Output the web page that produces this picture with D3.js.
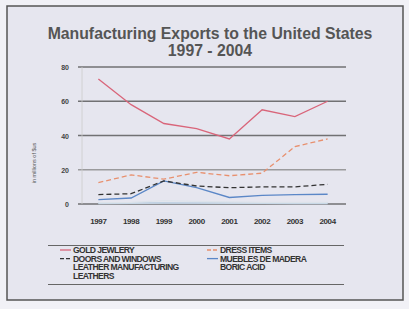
<!DOCTYPE html>
<html>
<head>
<meta charset="utf-8">
<script src="https://cdn.jsdelivr.net/npm/d3@7"></script>
<style>
  body { margin: 0; background: #f1f1f6; }
  svg { display: block; }
</style>
</head>
<body>
<svg id="chart" width="409" height="309"></svg>
<script>
// data
var years = ['1997', '1998', '1999', '2000', '2001', '2002', '2003', '2004'];
var yTicks = [0, 20, 40, 60, 80];
var goldJewlery = [73, 58, 47, 44, 38, 55, 51, 60];
var dressItems = [12.5, 17, 14.5, 18.5, 16.5, 18, 33.5, 38];
var doorsWindows = [5.5, 6, 13.5, 10.5, 9.5, 10, 10, 11.5];
var mueblesMadera = [2.5, 3.5, 13.5, 9.5, 3.8, 5, 5.5, 5.7];
var leatherManuf = [0.8, 1, 2, 1.5, 1.2, 1, 1, 1];
var leathers = [0.3, 0.4, 0.5, 0.5, 0.4, 0.4, 0.3, 0.3];
var boricAcid = [0.5, 0.5, 0.6, 0.5, 0.5, 0.5, 0.5, 0.5];

var series = [
  {name: 'GOLD JEWLERY', values: goldJewlery, color: '#d9657a', dash: null, col: 0, row: 0},
  {name: 'DOORS AND WINDOWS', values: doorsWindows, color: '#333333', dash: '5,3', col: 0, row: 1},
  {name: 'LEATHER MANUFACTURING', values: leatherManuf, color: '#dde3ea', dash: null, col: 0, row: 2},
  {name: 'LEATHERS', values: leathers, color: '#c9d8e6', dash: null, col: 0, row: 3},
  {name: 'DRESS ITEMS', values: dressItems, color: '#e8906e', dash: '5,3', col: 1, row: 0},
  {name: 'MUEBLES DE MADERA', values: mueblesMadera, color: '#5b87c7', dash: null, col: 1, row: 1},
  {name: 'BORIC ACID', values: boricAcid, color: '#aac4dc', dash: null, col: 1, row: 2}
];

var svg = d3.select('#chart');

// frame
svg.append('rect')
    .attr('x', 7).attr('y', 6)
    .attr('width', 396).attr('height', 294)
    .attr('fill', '#e6e6ef')
    .attr('stroke', '#555').attr('stroke-width', 1.5);

// title
svg.append('text')
    .attr('x', 210).attr('y', 39)
    .attr('text-anchor', 'middle')
    .attr('font-family', 'Liberation Sans, Arial, sans-serif')
    .attr('font-weight', 'bold').attr('font-size', 15.8)
    .attr('fill', '#555')
    .text('Manufacturing Exports to the United States');
svg.append('text')
    .attr('x', 210).attr('y', 56)
    .attr('text-anchor', 'middle')
    .attr('font-family', 'Liberation Sans, Arial, sans-serif')
    .attr('font-weight', 'bold').attr('font-size', 15.8)
    .attr('fill', '#555')
    .text('1997  -  2004');

var x = d3.scaleBand().domain(years).range([82, 344]);
var y = d3.scaleLinear().domain([0, 80]).range([204, 67]);

// gridlines
svg.append('g').selectAll('line')
    .data(yTicks)
    .join('line')
    .attr('x1', 78).attr('x2', 346)
    .attr('y1', d => y(d)).attr('y2', d => y(d))
    .attr('stroke', d => d == 20 ? '#888' : '#555')
    .attr('stroke-width', 1.4)
    .attr('opacity', 0.8);

// faint vertical axis
svg.append('line')
    .attr('x1', 82).attr('x2', 82)
    .attr('y1', y(80)).attr('y2', y(0))
    .attr('stroke', '#ccc').attr('stroke-width', 0.8);

// y tick labels
svg.append('g').selectAll('text')
    .data(yTicks)
    .join('text')
    .attr('x', 69).attr('y', d => y(d) + 3)
    .attr('text-anchor', 'end')
    .attr('font-family', 'Liberation Sans, Arial, sans-serif')
    .attr('font-weight', 'bold').attr('font-size', 7)
    .attr('fill', '#444')
    .text(d => d);

// x tick labels
svg.append('g').selectAll('text')
    .data(years)
    .join('text')
    .attr('x', d => x(d) + x.bandwidth() / 2)
    .attr('y', 224)
    .attr('text-anchor', 'middle')
    .attr('font-family', 'Liberation Sans, Arial, sans-serif')
    .attr('font-weight', 'bold').attr('font-size', 8)
    .attr('letter-spacing', -0.4)
    .attr('fill', '#333')
    .text(d => d);

// y axis title
svg.append('text')
    .attr('transform', 'translate(36,163) rotate(-90)')
    .attr('text-anchor', 'middle')
    .attr('font-family', 'Liberation Sans, Arial, sans-serif')
    .attr('font-size', 5.5)
    .attr('fill', '#555')
    .text('in millions of $us');

var line = d3.line()
    .x((d, i) => x(years[i]) + x.bandwidth() / 2)
    .y(d => y(d));

// draw faint lines first so the main ones sit on top
var order = series.slice().reverse();
svg.append('g').selectAll('path')
    .data(order)
    .join('path')
    .attr('d', d => line(d.values))
    .attr('fill', 'none')
    .attr('stroke', d => d.color)
    .attr('stroke-width', 1.3)
    .attr('stroke-dasharray', d => d.dash);

// legend
svg.append('line')
    .attr('x1', 48).attr('x2', 344).attr('y1', 245.5).attr('y2', 245.5)
    .attr('stroke', '#666').attr('stroke-width', 1.2);
svg.append('line')
    .attr('x1', 48).attr('x2', 344).attr('y1', 284.5).attr('y2', 284.5)
    .attr('stroke', '#666').attr('stroke-width', 1.2);

var legend = svg.append('g').selectAll('g')
    .data(series)
    .join('g')
    .attr('transform', d => `translate(${d.col == 0 ? 60 : 207},${250 + d.row * 8.6})`);

legend.append('line')
    .attr('x1', 0).attr('x2', 11)
    .attr('stroke', d => d.name == 'LEATHERS' || d.name == 'BORIC ACID' || d.name == 'LEATHER MANUFACTURING' ? 'none' : d.color)
    .attr('stroke-width', 1.3)
    .attr('stroke-dasharray', d => d.dash ? '4,2' : null);

legend.append('text')
    .attr('x', 13).attr('y', 3)
    .attr('font-family', 'Liberation Sans, Arial, sans-serif')
    .attr('font-weight', 'bold').attr('font-size', 8.6)
    .attr('letter-spacing', -0.6)
    .attr('fill', '#333')
    .text(d => d.name);
</script>
</body>
</html>
